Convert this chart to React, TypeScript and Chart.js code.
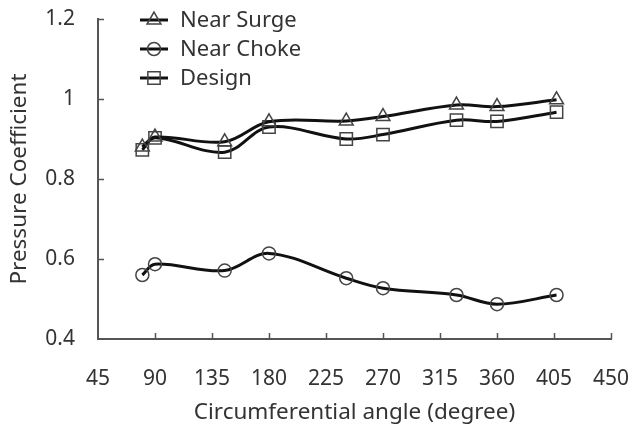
import React, { useEffect, useRef } from 'react';
import { Chart, registerables } from 'chart.js';

Chart.register(...registerables);

// Circumferential positions (degree) of the pressure taps
const angles = [80, 90, 145, 180, 241, 270, 328, 360, 407];

// Pressure coefficient per operating point
const nearSurge = [0.88, 0.905, 0.893, 0.943, 0.945, 0.956, 0.985, 0.981, 0.998];
const nearChoke = [0.56, 0.587, 0.571, 0.614, 0.552, 0.527, 0.51, 0.487, 0.51];
const design = [0.873, 0.903, 0.867, 0.93, 0.9, 0.911, 0.947, 0.944, 0.967];

const seriesNames = ['Near Surge', 'Near Choke', 'Design'];
const seriesValues = [nearSurge, nearChoke, design];
const markerStyles = ['triangle', 'circle', 'rect'];
const markerRadii = [8, 6.5, 8.7];

const xTicks = [45, 90, 135, 180, 225, 270, 315, 360, 405, 450];
const yTicks = [0.4, 0.6, 0.8, 1, 1.2];
const yTickLabels = ['0.4', '0.6', '0.8', '1', '1.2'];

const FONT = '"Noto Sans", "Open Sans", sans-serif';
const TEXT = '#333333';
const AXIS = '#555555';
const MARKER = '#444444';

function drawMarker(ctx: CanvasRenderingContext2D, style: string, x: number, y: number, r: number) {
  ctx.beginPath();
  if (style === 'circle') {
    ctx.arc(x, y, r, 0, Math.PI * 2);
  } else if (style === 'triangle') {
    const h = (r * Math.sqrt(3)) / 2;
    ctx.moveTo(x, y - r);
    ctx.lineTo(x + h, y + r / 2);
    ctx.lineTo(x - h, y + r / 2);
    ctx.closePath();
  } else {
    const s = r / Math.SQRT2;
    ctx.rect(x - s, y - s, 2 * s, 2 * s);
  }
  ctx.stroke();
}

// Inward tick marks on both axes plus a line-and-marker legend in the top-left
const decorations = {
  id: 'decorations',
  afterDraw(chart: any) {
    const ctx: CanvasRenderingContext2D = chart.ctx;
    const { x, y } = chart.scales;
    const area = chart.chartArea;
    ctx.save();
    ctx.strokeStyle = AXIS;
    ctx.lineWidth = 1.5;
    ctx.beginPath();
    xTicks.slice(1).forEach((v) => {
      const px = Math.round(x.getPixelForValue(v)) + 0.5;
      ctx.moveTo(px, area.bottom);
      ctx.lineTo(px, area.bottom - 6);
    });
    yTicks.slice(1).forEach((v) => {
      const py = Math.round(y.getPixelForValue(v)) + 0.5;
      ctx.moveTo(area.left, py);
      ctx.lineTo(area.left + 6, py);
    });
    ctx.stroke();

    // legend
    const lx0 = 140;
    const lx1 = 168;
    const tx = 180;
    const rows = [20, 49, 78];
    seriesNames.forEach((name, i) => {
      const ry = rows[i];
      ctx.strokeStyle = '#111111';
      ctx.lineWidth = 3;
      ctx.beginPath();
      ctx.moveTo(lx0, ry);
      ctx.lineTo(lx1, ry);
      ctx.stroke();
      ctx.strokeStyle = MARKER;
      ctx.lineWidth = 1.5;
      drawMarker(ctx, markerStyles[i], (lx0 + lx1) / 2, ry, markerRadii[i]);
      ctx.fillStyle = TEXT;
      ctx.font = `22px ${FONT}`;
      ctx.textAlign = 'left';
      ctx.textBaseline = 'middle';
      ctx.fillText(name, tx, ry + 1);
    });
    ctx.restore();
  },
};

export default function App() {
  const canvasRef = useRef<HTMLCanvasElement | null>(null);

  useEffect(() => {
    const canvas = canvasRef.current;
    if (!canvas) return;
    const chart = new Chart(canvas, {
      type: 'line',
      data: {
        datasets: seriesNames.map((name, i) => ({
          label: name,
          data: angles.map((a, j) => ({ x: a, y: seriesValues[i][j] })),
          borderColor: '#111111',
          borderWidth: 3,
          tension: 0.35,
          fill: false,
          pointStyle: markerStyles[i] as any,
          pointRadius: markerRadii[i],
          pointBorderColor: MARKER,
          pointBackgroundColor: 'rgba(0,0,0,0)',
          pointBorderWidth: 1.5,
        })),
      },
      options: {
        responsive: false,
        animation: false,
        devicePixelRatio: 1,
        layout: { autoPadding: false, padding: { top: 19, right: 19, left: 0, bottom: 0 } },
        plugins: {
          legend: { display: false },
          tooltip: { enabled: false },
        },
        scales: {
          x: {
            type: 'linear',
            min: 45,
            max: 450,
            afterBuildTicks: (scale: any) => {
              scale.ticks = xTicks.map((v) => ({ value: v }));
            },
            afterFit: (scale: any) => {
              scale.height = 88;
              scale.paddingLeft = 0;
              scale.paddingRight = 0;
            },
            ticks: {
              callback: (v: any) => String(v),
              font: { family: FONT, size: 21 },
              color: TEXT,
              padding: 27,
              maxRotation: 0,
              autoSkip: false,
            },
            grid: { display: false, drawTicks: false },
            border: { display: true, color: AXIS, width: 2 },
            title: {
              display: true,
              text: 'Circumferential angle (degree)',
              font: { family: FONT, size: 22.5 },
              color: TEXT,
              padding: { top: 0, bottom: 1 },
            },
          },
          y: {
            type: 'linear',
            min: 0.4,
            max: 1.2,
            afterBuildTicks: (scale: any) => {
              scale.ticks = yTicks.map((v) => ({ value: v }));
            },
            afterFit: (scale: any) => {
              scale.width = 98;
              scale.paddingTop = 0;
              scale.paddingBottom = 0;
            },
            ticks: {
              callback: (v: any) => {
                const k = yTicks.findIndex((t) => Math.abs(t - Number(v)) < 1e-6);
                return k >= 0 ? yTickLabels[k] : '';
              },
              font: { family: FONT, size: 21 },
              color: TEXT,
              padding: 23,
            },
            grid: { display: false, drawTicks: false },
            border: { display: true, color: AXIS, width: 2 },
            title: {
              display: true,
              text: 'Pressure Coefficient',
              font: { family: FONT, size: 22.5 },
              color: TEXT,
              padding: { top: 6, bottom: 0 },
            },
          },
        },
      },
      plugins: [decorations],
    });
    return () => chart.destroy();
  }, []);

  return (
    <div style={{ position: 'absolute', left: 0, top: 0, width: 630, height: 427, background: '#ffffff' }}>
      <canvas ref={canvasRef} width={630} height={427} />
    </div>
  );
}
